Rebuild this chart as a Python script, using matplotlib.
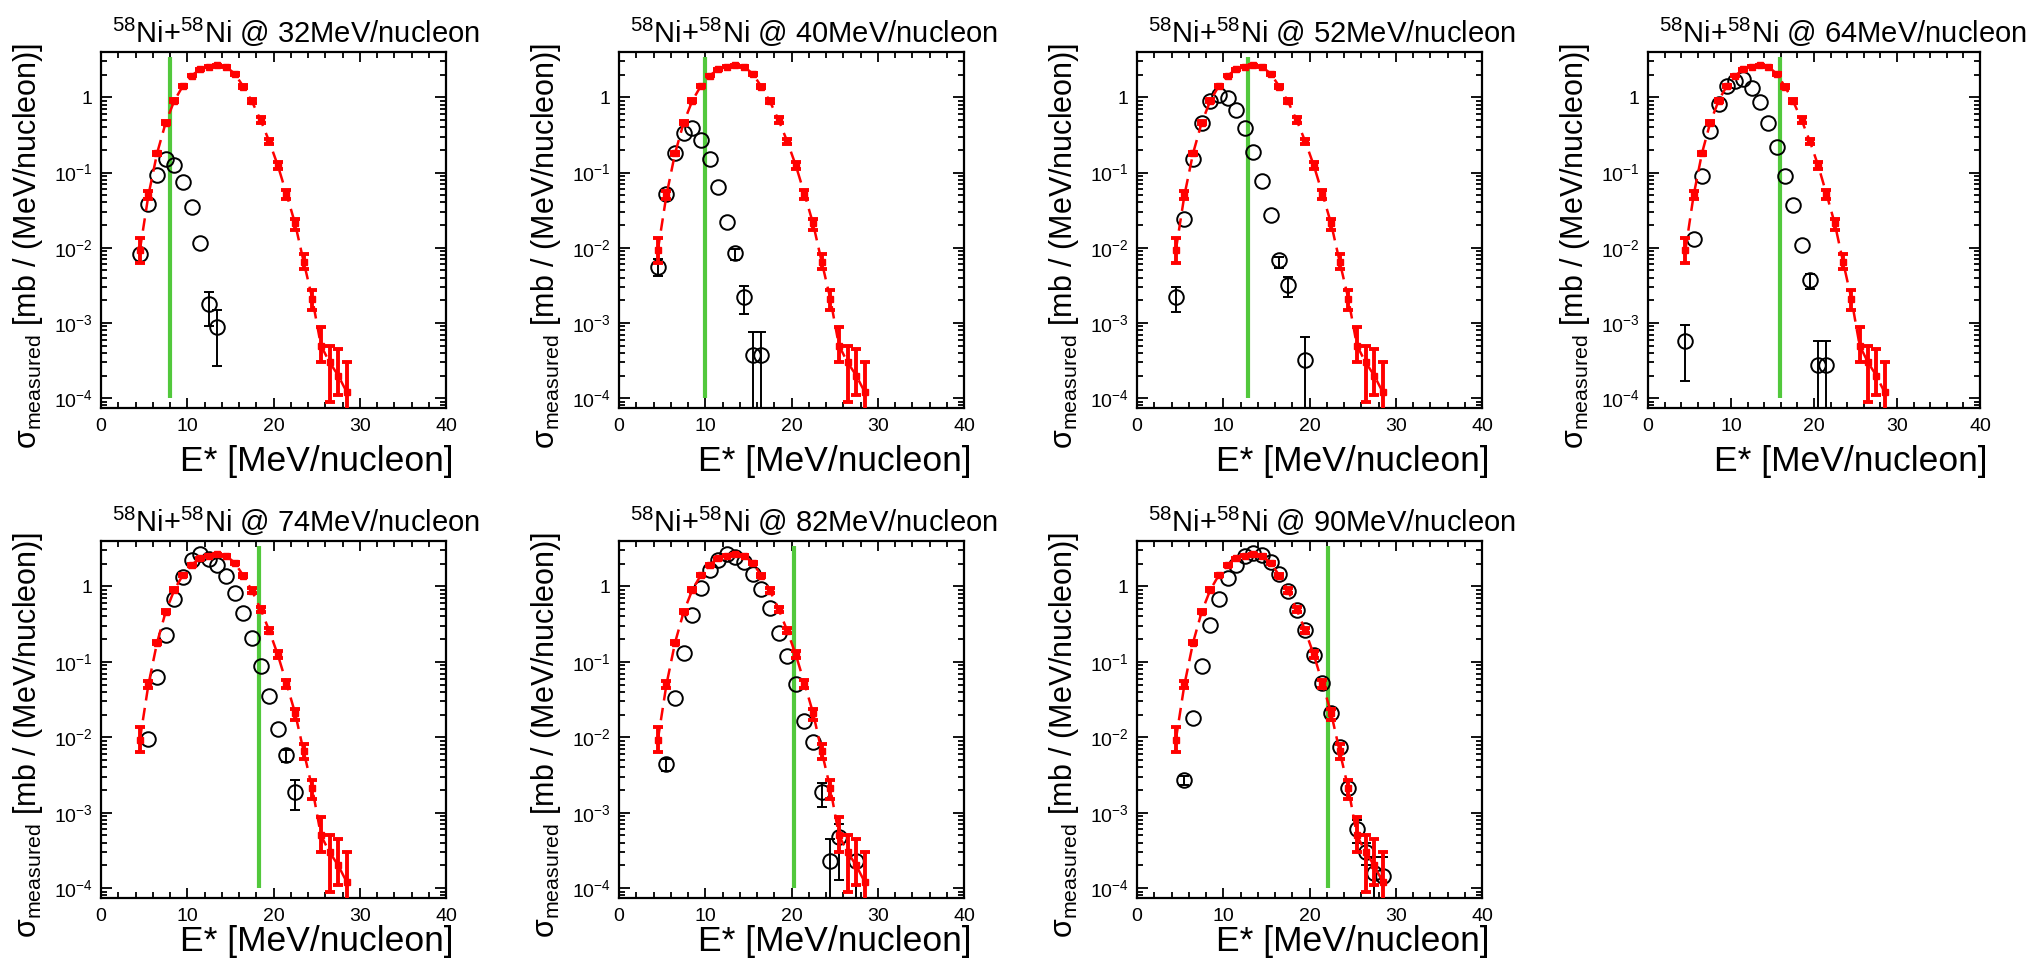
import math

import matplotlib
matplotlib.use("Agg")
import matplotlib.pyplot as plt
from matplotlib.ticker import FixedLocator, MultipleLocator, LogLocator, FuncFormatter, NullFormatter

plt.rcParams["font.family"] = ["Liberation Sans", "DejaVu Sans"]
plt.rcParams["mathtext.fontset"] = "custom"
plt.rcParams["mathtext.rm"] = "Liberation Sans"
plt.rcParams["mathtext.it"] = "Liberation Sans:italic"
plt.rcParams["mathtext.bf"] = "Liberation Sans:bold"

# beam energies and available c.m. energy per nucleon (green line)
beams = [32, 40, 52, 64, 74, 82, 90]
e_avail = [7.97, 9.95, 12.9, 15.86, 18.32, 20.28, 22.2]

# model prediction (red), identical in every panel
model_e = [4.5, 5.5, 6.5, 7.5, 8.5, 9.5, 10.5, 11.5, 12.5, 13.5, 14.5, 15.5, 16.5,
           17.5, 18.5, 19.5, 20.5, 21.5, 22.5, 23.5, 24.5, 25.5, 26.5, 27.5, 28.5]
model_y = [0.0092, 0.05, 0.18, 0.46, 0.9, 1.42, 1.94, 2.35, 2.55, 2.65, 2.55, 2.06, 1.39,
           0.88, 0.5, 0.26, 0.124, 0.052, 0.021, 0.0065, 0.0021, 0.0005, 0.0003, 0.0002, 0.00012]
model_lo = [0.0063, 0.045, 0.17, 0.44, 0.86, 1.37, 1.89, 2.3, 2.5, 2.6, 2.5, 2.0, 1.33,
            0.83, 0.46, 0.24, 0.112, 0.045, 0.017, 0.0052, 0.0015, 0.0003, 0.00009, 0.00011, 0.00006]
model_hi = [0.0135, 0.056, 0.19, 0.48, 0.94, 1.47, 1.99, 2.4, 2.6, 2.7, 2.6, 2.12, 1.45,
            0.94, 0.54, 0.28, 0.138, 0.058, 0.024, 0.0082, 0.0027, 0.00088, 0.0005, 0.00045, 0.0003]

# measured cross sections (black), None = error bar hidden by the marker
m32_e = [4.5, 5.5, 6.5, 7.5, 8.5, 9.5, 10.5, 11.5, 12.5, 13.5]
m32_y = [0.0083, 0.038, 0.094, 0.15, 0.124, 0.074, 0.035, 0.0115, 0.0018, 0.00089]
m32_lo = [None] * 8 + [0.0009, 0.00027]
m32_hi = [None] * 8 + [0.0026, 0.0015]

m40_e = [4.5, 5.5, 6.5, 7.5, 8.5, 9.5, 10.5, 11.5, 12.5, 13.5, 14.5, 15.5, 16.5]
m40_y = [0.0055, 0.052, 0.18, 0.34, 0.39, 0.27, 0.15, 0.064, 0.022, 0.0085, 0.0022, 0.00037, 0.00037]
m40_lo = [0.0042] + [None] * 8 + [0.0068, 0.0013, 1e-5, 1e-5]
m40_hi = [0.007] + [None] * 8 + [0.0095, 0.0031, 0.00075, 0.00075]

m52_e = [4.5, 5.5, 6.5, 7.5, 8.5, 9.5, 10.5, 11.5, 12.5, 13.5, 14.5, 15.5, 16.5, 17.5, 19.5]
m52_y = [0.0022, 0.024, 0.15, 0.46, 0.9, 1.07, 0.97, 0.67, 0.39, 0.19, 0.078, 0.027,
         0.0068, 0.0032, 0.00032]
m52_lo = [0.0014] + [None] * 11 + [0.0054, 0.0022, 1e-5]
m52_hi = [0.003] + [None] * 11 + [0.0076, 0.0041, 0.00066]

m64_e = [4.5, 5.5, 6.5, 7.5, 8.5, 9.5, 10.5, 11.5, 12.5, 13.5, 14.5, 15.5, 16.5, 17.5,
         18.5, 19.5, 20.5, 21.5]
m64_y = [0.00058, 0.013, 0.089, 0.36, 0.81, 1.43, 1.66, 1.75, 1.33, 0.86, 0.46, 0.22,
         0.091, 0.037, 0.011, 0.0037, 0.00028, 0.00028]
m64_lo = [0.00017] + [None] * 14 + [0.0028, 1e-5, 1e-5]
m64_hi = [0.00095] + [None] * 14 + [0.0045, 0.00057, 0.00057]

m74_e = [5.5, 6.5, 7.5, 8.5, 9.5, 10.5, 11.5, 12.5, 13.5, 14.5, 15.5, 16.5, 17.5, 18.5,
         19.5, 20.5, 21.5, 22.5]
m74_y = [0.0096, 0.063, 0.23, 0.68, 1.32, 2.26, 2.7, 2.3, 1.94, 1.36, 0.81, 0.45, 0.21,
         0.088, 0.035, 0.013, 0.0059, 0.0019]
m74_lo = [None] * 16 + [0.0047, 0.0011]
m74_hi = [None] * 16 + [0.0068, 0.0027]

m82_e = [5.5, 6.5, 7.5, 8.5, 9.5, 10.5, 11.5, 12.5, 13.5, 14.5, 15.5, 16.5, 17.5, 18.5,
         19.5, 20.5, 21.5, 22.5, 23.5, 24.5, 25.5, 27.5]
m82_y = [0.0044, 0.033, 0.13, 0.42, 0.95, 1.63, 2.26, 2.72, 2.43, 2.1, 1.46, 0.93, 0.51,
         0.24, 0.12, 0.051, 0.0165, 0.0087, 0.0019, 0.00023, 0.00047, 0.00023]
m82_lo = [0.0036] + [None] * 17 + [0.0012, 1e-5, 0.00013, 1e-5]
m82_hi = [0.0052] + [None] * 17 + [0.0025, 0.00045, 0.0007, 0.00045]

m90_e = [5.5, 6.5, 7.5, 8.5, 9.5, 10.5, 11.5, 12.5, 13.5, 14.5, 15.5, 16.5, 17.5, 18.5,
         19.5, 20.5, 21.5, 22.5, 23.5, 24.5, 25.5, 26.5, 27.5, 28.5]
m90_y = [0.0027, 0.018, 0.088, 0.31, 0.69, 1.29, 1.94, 2.56, 2.78, 2.64, 2.1, 1.46, 0.88,
         0.48, 0.265, 0.123, 0.053, 0.0207, 0.0074, 0.0021, 0.0006, 0.0003, 0.00016, 0.000145]
m90_lo = [0.0023] + [None] * 19 + [0.0004, 0.0002, 1e-5, 1e-5]
m90_hi = [0.0031] + [None] * 19 + [0.0008, 0.0004, 0.00026, 0.00026]

measured = [
    (m32_e, m32_y, m32_lo, m32_hi),
    (m40_e, m40_y, m40_lo, m40_hi),
    (m52_e, m52_y, m52_lo, m52_hi),
    (m64_e, m64_y, m64_lo, m64_hi),
    (m74_e, m74_y, m74_lo, m74_hi),
    (m82_e, m82_y, m82_lo, m82_hi),
    (m90_e, m90_y, m90_lo, m90_hi),
]

# panel geometry in pixels (left, top, width, height), x-title baseline offset
W, H = 2044, 965
boxes = [(101, 52, 345, 356), (619, 52, 345, 356), (1137, 52, 345, 356), (1648, 52, 332, 356),
         (101, 541, 345, 357), (619, 541, 345, 357), (1137, 541, 345, 357)]
xlab_off = [63, 63, 63, 63, 53, 53, 53]


def log_label(v, pos):
    if abs(v - 1) < 1e-9:
        return "1"
    return r"$10^{%d}$" % int(round(math.log10(v)))


fig = plt.figure(figsize=(W / 100, H / 100), dpi=100)

for i, (beam, ea, (me, my, mlo, mhi)) in enumerate(zip(beams, e_avail, measured)):
    l, t, w, h = boxes[i]
    ax = fig.add_axes([l / W, 1 - (t + h) / H, w / W, h / H])

    ax.set_yscale("log")
    ax.set_xlim(0, 40)
    ax.set_ylim(7.4e-5, 4.0)

    # green line: available energy
    ax.vlines(ea, 1e-4, 3.4, color="#52c83c", linewidth=3, zorder=2)

    # measured points
    ax.plot(me, my, linestyle="none", marker="o", markersize=10.5, markerfacecolor="none",
            markeredgecolor="black", markeredgewidth=1.4, zorder=3)
    ex, ey, elo, ehi = [], [], [], []
    for e, y, lo, hi in zip(me, my, mlo, mhi):
        if lo is not None:
            ex.append(e)
            ey.append(y)
            elo.append(y - lo)
            ehi.append(hi - y)
    if ex:
        ax.errorbar(ex, ey, yerr=[elo, ehi], fmt="none", ecolor="black", elinewidth=1.4,
                    capsize=3.5, capthick=1.4, zorder=3)

    # model
    ax.plot(model_e, model_y, color="red", linestyle=(0, (5, 3)), linewidth=1.8, zorder=4)
    ax.errorbar(model_e, model_y,
                yerr=[[y - lo for y, lo in zip(model_y, model_lo)],
                      [hi - y for y, hi in zip(model_y, model_hi)]],
                fmt="s", color="red", markersize=4.5, elinewidth=2.8, capsize=3.5,
                capthick=2.8, linestyle="none", zorder=4)

    ax.xaxis.set_major_locator(MultipleLocator(10))
    ax.xaxis.set_minor_locator(MultipleLocator(2))
    ax.yaxis.set_major_locator(FixedLocator([1e-4, 1e-3, 1e-2, 1e-1, 1]))
    ax.yaxis.set_minor_locator(LogLocator(base=10, subs=range(2, 10), numticks=20))
    ax.yaxis.set_major_formatter(FuncFormatter(log_label))
    ax.yaxis.set_minor_formatter(NullFormatter())
    ax.tick_params(which="both", direction="in", top=True, right=True, labelsize=14,
                   width=1.3)
    ax.tick_params(axis="x", which="major", length=7, pad=7)
    ax.tick_params(axis="x", which="minor", length=4)
    ax.tick_params(axis="y", which="major", length=8, pad=6)
    ax.tick_params(axis="y", which="minor", length=4)
    for sp in ax.spines.values():
        sp.set_linewidth(1.6)

    ax.text(11 / w, 1 + 9 / h, r"$^{58}$Ni+$^{58}$Ni @ %dMeV/nucleon" % beam,
            transform=ax.transAxes, ha="left", va="baseline", fontsize=21)
    ax.text(1 + 7 / w, -xlab_off[i] / h, "E* [MeV/nucleon]", transform=ax.transAxes,
            ha="right", va="baseline", fontsize=25.5)
    ax.text(-56 / w, 1 + 9 / h, r"σ$_{\mathrm{measured}}$ [mb / (MeV/nucleon)]",
            transform=ax.transAxes, rotation=90, ha="right", va="top", fontsize=22)

fig.savefig("out.png", dpi=100)
